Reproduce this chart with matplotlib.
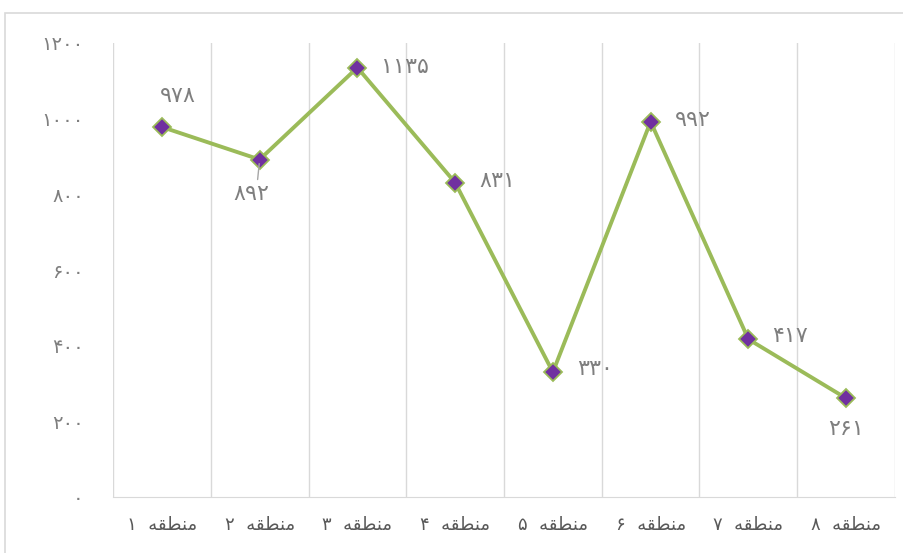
import matplotlib.pyplot as plt
from matplotlib.patches import Rectangle

# data
regions = ['منطقه ۱', 'منطقه ۲', 'منطقه ۳', 'منطقه ۴', 'منطقه ۵', 'منطقه ۶', 'منطقه ۷', 'منطقه ۸']
values = [978, 892, 1135, 831, 330, 992, 417, 261]
y_ticks = [0, 200, 400, 600, 800, 1000, 1200]

# label offsets in pixels (where Excel put each data label)
label_offsets = [(16, 31), (-8, -34), (48, 1), (42, 2), (42, 3), (42, 2), (42, 3), (0, -31)]

FA_DIGITS = str.maketrans('0123456789', '۰۱۲۳۴۵۶۷۸۹')

# presentation forms: isolated, final, initial, medial
FORMS = {
    'م': '\uFEE1\uFEE2\uFEE3\uFEE4',
    'ن': '\uFEE5\uFEE6\uFEE7\uFEE8',
    'ط': '\uFEC1\uFEC2\uFEC3\uFEC4',
    'ق': '\uFED5\uFED6\uFED7\uFED8',
    'ه': '\uFEE9\uFEEA\uFEEB\uFEEC',
}


def shape_word(w):
    out = []
    for i, ch in enumerate(w):
        prev = i > 0 and w[i - 1] in FORMS
        nxt = i < len(w) - 1 and w[i + 1] in FORMS
        k = {(False, False): 0, (True, False): 1, (False, True): 2, (True, True): 3}[(prev, nxt)]
        out.append(FORMS[ch][k])
    return ''.join(reversed(out))


def rtl(label):
    word, num = label.split(' ')
    return num + '  ' + shape_word(word)


def fa(n):
    return str(n).translate(FA_DIGITS)


plt.rcParams['font.family'] = ['DejaVu Sans']

fig = plt.figure(figsize=(9.04, 5.53), dpi=100)
fig.patches.append(Rectangle((5 / 904, -0.05), 1.1, 1 - 13 / 553 + 0.05, transform=fig.transFigure,
                             fill=False, edgecolor='#d9d9d9', linewidth=1.2))
ax = fig.add_axes([113 / 904, 1 - 497 / 553, 782 / 904, 454 / 553])

x = list(range(1, len(values) + 1))
ax.plot(x, values, color='#9bbb59', linewidth=2.8, marker='D', markersize=9,
        markerfacecolor='#7030a0', markeredgecolor='#9bbb59', markeredgewidth=1.3, zorder=3)

for xi, v, (dx, dy) in zip(x, values, label_offsets):
    ax.annotate(fa(v), (xi, v), xytext=(dx, dy), textcoords='offset pixels',
                ha='center', va='center', fontsize=16, color='#7f7f7f')

# leader line for the second label
ax.annotate('', (2, values[1]), xytext=(-2, -20), textcoords='offset pixels',
            arrowprops=dict(arrowstyle='-', color='#a6a6a6', lw=1, shrinkA=0, shrinkB=3))

ax.set_xlim(0.5, 8.5)
ax.set_ylim(0, 1200)
ax.set_xticks(x)
ax.set_xticklabels([rtl(r) for r in regions], fontsize=13, color='#595959')
ax.set_yticks(y_ticks)
ax.set_yticklabels([fa(t) for t in y_ticks], fontsize=14, color='#7f7f7f')
ax.tick_params(length=0, axis='x', pad=14)
ax.tick_params(length=0, axis='y', pad=21)

for b in [i + 0.5 for i in range(0, 9)]:
    ax.axvline(b, color='#d9d9d9', linewidth=1, zorder=1)

for s in ['top', 'right', 'left']:
    ax.spines[s].set_visible(False)
ax.spines['bottom'].set_color('#d9d9d9')

fig.savefig('out.png', dpi=100)
